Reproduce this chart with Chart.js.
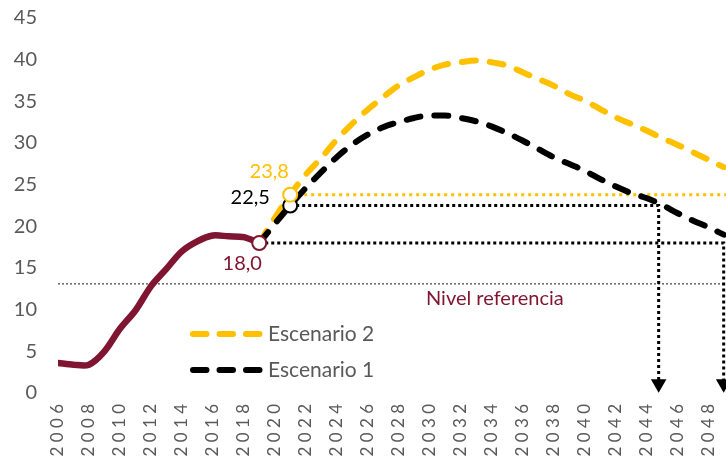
<!DOCTYPE html>
<html>
<head>
<meta charset="utf-8">
<script src="https://cdn.jsdelivr.net/npm/chart.js@4.4.1/dist/chart.umd.min.js"></script>
<style>
  html, body { margin: 0; padding: 0; background: #fff; }
  #wrap { width: 726px; height: 467px; }
</style>
</head>
<body>
<div id="wrap"><canvas id="mycanvas"></canvas></div>
<script>
// historical series
var histYears = [2006,2007,2008,2009,2010,2011,2012,2013,2014,2015,2016,2017,2018,2019];
var histValues = [3.6,3.4,3.4,5.0,7.7,9.9,12.8,14.9,17.0,18.2,18.9,18.8,18.7,18.0];

// projections
var scenYears = [2019,2020,2021,2022,2023,2024,2025,2026,2027,2028,2029,2030,2031,2032,2033,2034,
                 2035,2036,2037,2038,2039,2040,2041,2042,2043,2044,2045,2046,2047,2048,2049];
var escenario2 = [18.0,21.0,23.8,26.2,28.2,30.4,32.3,34.0,35.5,36.9,37.9,38.8,39.4,39.7,39.9,39.7,
                  39.3,38.5,37.7,36.9,35.9,35.1,34.1,33.1,32.3,31.5,30.6,29.8,28.9,28.0,27.1];
var escenario1 = [18.0,20.3,22.5,24.6,26.5,28.3,29.8,31.0,31.9,32.5,33.0,33.3,33.3,33.0,32.6,32.0,
                  31.2,30.3,29.3,28.3,27.5,26.7,25.7,24.8,24.0,23.4,22.6,21.6,20.7,19.9,19.0];

var refLevel = 13.1;
var startYear = 2019, markYear = 2021;
var crossYears = [2044.8, 2049.0];   // escenario 1 back to 22,5 and 18,0
var xTicks = [2006,2008,2010,2012,2014,2016,2018,2020,2022,2024,2026,2028,2030,2032,2034,2036,2038,2040,2042,2044,2046,2048];
var yTicks = [0,5,10,15,20,25,30,35,40,45];

var xMin = 2006, xMax = 2049.15, arrowY = 1.1;

var maroon = '#7f1530', gold = '#ffc000', grey = '#595959';
var FONT = 'Lato';

function pts(xs, ys) {
  var out = [];
  for (var i = 0; i < xs.length; i++) out.push({x: xs[i], y: ys[i]});
  return out;
}
function fmt(v) { return v.toFixed(1).replace('.', ','); }

var v18 = histValues[histValues.length - 1];
var v225 = escenario1[scenYears.indexOf(markYear)];
var v238 = escenario2[scenYears.indexOf(markYear)];

var extras = {
  id: 'extras',
  afterDatasetsDraw: function(chart) {
    var ctx = chart.ctx, xs = chart.scales.x, ys = chart.scales.y;
    ctx.save();
    ctx.textAlign = 'center';
    ctx.textBaseline = 'middle';
    ctx.font = '20px ' + FONT;
    // value labels
    ctx.fillStyle = maroon;
    ctx.fillText(fmt(v18), xs.getPixelForValue(startYear) - 17, ys.getPixelForValue(v18) + 21);
    ctx.fillStyle = '#000';
    ctx.fillText(fmt(v225), xs.getPixelForValue(markYear) - 40, ys.getPixelForValue(v225) - 8);
    ctx.fillStyle = gold;
    ctx.fillText(fmt(v238), xs.getPixelForValue(markYear) - 21, ys.getPixelForValue(v238) - 23);
    // reference label
    ctx.textAlign = 'left';
    ctx.font = '20px ' + FONT;
    ctx.fillStyle = maroon;
    ctx.fillText('Nivel referencia', 426, ys.getPixelForValue(refLevel) + 15);
    // legend
    var items = [{ds: chart.data.datasets[3], y: 334}, {ds: chart.data.datasets[2], y: 370}];
    ctx.font = '21px ' + FONT;
    items.forEach(function(it) {
      ctx.beginPath();
      ctx.setLineDash([13.5, 13]);
      ctx.lineCap = 'round';
      ctx.lineWidth = 6;
      ctx.strokeStyle = it.ds.borderColor;
      ctx.moveTo(193, it.y);
      ctx.lineTo(260, it.y);
      ctx.stroke();
      ctx.setLineDash([]);
      ctx.fillStyle = grey;
      ctx.fillText(it.ds.label, 268, it.y);
    });
    ctx.restore();
  }
};

var ctx1 = document.getElementById('mycanvas');
var chart = new Chart(ctx1, {
  type: 'line',
  data: {
    datasets: [
      {
        label: 'marks',
        data: [{x: startYear, y: v18}, {x: markYear, y: v225}, {x: markYear, y: v238}],
        showLine: false,
        pointRadius: 7,
        pointBorderWidth: 2,
        pointBackgroundColor: '#fff',
        pointBorderColor: [maroon, '#000', gold],
        clip: false
      },
      {
        label: 'Histórico',
        data: pts(histYears, histValues),
        borderColor: maroon,
        borderWidth: 6.5,
        pointRadius: 0,
        tension: 0.3,
        borderCapStyle: 'round'
      },
      {
        label: 'Escenario 1',
        data: pts(scenYears, escenario1),
        borderColor: '#000',
        borderWidth: 6,
        borderDash: [14, 14],
        borderCapStyle: 'round',
        pointRadius: 0,
        cubicInterpolationMode: 'monotone'
      },
      {
        label: 'Escenario 2',
        data: pts(scenYears, escenario2),
        borderColor: gold,
        borderWidth: 6,
        borderDash: [14, 14],
        borderCapStyle: 'round',
        pointRadius: 0,
        cubicInterpolationMode: 'monotone'
      },
      {
        label: 'g238',
        data: [{x: markYear, y: v238}, {x: xMax, y: v238}],
        borderColor: gold,
        borderWidth: 3,
        borderDash: [3, 4],
        pointRadius: 0
      },
      {
        label: 'g225',
        data: [{x: markYear, y: v225}, {x: crossYears[0], y: v225}, {x: crossYears[0], y: arrowY}],
        borderColor: '#000',
        borderWidth: 3,
        borderDash: [3, 3],
        pointRadius: [0, 0, 9],
        pointStyle: 'triangle',
        pointRotation: 180,
        pointBackgroundColor: '#000',
        pointBorderWidth: 0,
        clip: false
      },
      {
        label: 'g18',
        data: [{x: startYear, y: v18}, {x: crossYears[1], y: v18}, {x: crossYears[1], y: arrowY}],
        borderColor: '#000',
        borderWidth: 3,
        borderDash: [3, 3],
        pointRadius: [0, 0, 9],
        pointStyle: 'triangle',
        pointRotation: 180,
        pointBackgroundColor: '#000',
        pointBorderWidth: 0,
        clip: false
      },
      {
        label: 'ref',
        data: [{x: xMin, y: refLevel}, {x: xMax, y: refLevel}],
        borderColor: '#666',
        borderWidth: 1.5,
        borderDash: [2, 2],
        pointRadius: 0
      }
    ]
  },
  options: {
    responsive: true,
    maintainAspectRatio: false,
    animation: false,
    layout: { autoPadding: false, padding: { top: 18, left: 0, right: 0, bottom: 0 } },
    plugins: { legend: { display: false }, tooltip: { enabled: false } },
    scales: {
      x: {
        type: 'linear',
        min: xMin,
        max: xMax,
        border: { display: false },
        grid: { display: false, drawTicks: false },
        afterBuildTicks: function(scale) {
          scale.ticks = xTicks.map(function(v) { return {value: v}; });
        },
        afterFit: function(scale) {
          scale.height = 74;
          scale.paddingLeft = 0;
          scale.paddingRight = 0;
        },
        ticks: {
          autoSkip: false,
          maxRotation: 90,
          minRotation: 90,
          padding: 11,
          color: grey,
          font: { family: FONT, size: 17 },
          callback: function(v) { return String(v).split('').join(' '); }
        }
      },
      y: {
        min: 0,
        max: 45,
        border: { display: false },
        grid: { display: false, drawTicks: false },
        afterBuildTicks: function(scale) {
          scale.ticks = yTicks.map(function(v) { return {value: v}; });
        },
        afterFit: function(scale) {
          scale.width = 58;
          scale.paddingTop = 0;
          scale.paddingBottom = 0;
        },
        ticks: {
          padding: 21,
          color: grey,
          font: { family: FONT, size: 20 }
        }
      }
    }
  },
  plugins: [extras]
});
</script>
</body>
</html>
